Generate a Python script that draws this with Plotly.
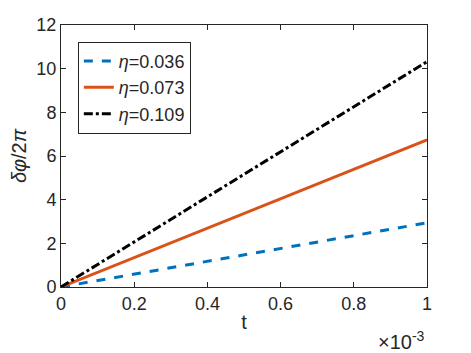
import plotly.graph_objects as go

# =========================================================
# Data
# =========================================================

t = [0, 0.2e-3, 0.4e-3, 0.6e-3, 0.8e-3, 1.0e-3]

phase_036 = [0, 0.59, 1.18, 1.77, 2.36, 2.94]
phase_073 = [0, 1.35, 2.70, 4.05, 5.40, 6.74]
phase_109 = [0, 2.07, 4.14, 6.21, 8.28, 10.32]

x_tickvals = [0, 0.2e-3, 0.4e-3, 0.6e-3, 0.8e-3, 1.0e-3]
x_ticktext = ["0", "0.2", "0.4", "0.6", "0.8", "1"]
y_tickvals = [0, 2, 4, 6, 8, 10, 12]

FONT = "Liberation Sans, Arial, sans-serif"
INK = "#262626"

fig = go.Figure()

fig.add_trace(go.Scatter(
    x=t, y=phase_036, mode="lines", name="<i>η</i>=0.036",
    line=dict(color="#0072BD", width=3, dash="dash")
))
fig.add_trace(go.Scatter(
    x=t, y=phase_073, mode="lines", name="<i>η</i>=0.073",
    line=dict(color="#D95319", width=3)
))
fig.add_trace(go.Scatter(
    x=t, y=phase_109, mode="lines", name="<i>η</i>=0.109",
    line=dict(color="black", width=3, dash="dashdot")
))

axis_style = dict(
    showline=True, linecolor=INK, linewidth=1, mirror="ticks",
    ticks="inside", ticklen=5, tickcolor=INK,
    showgrid=False, zeroline=False,
    tickfont=dict(family=FONT, size=18, color=INK),
)

fig.update_xaxes(
    range=[0, 1.0e-3], tickvals=x_tickvals, ticktext=x_ticktext,
    title=dict(text="t", font=dict(family=FONT, size=20, color=INK),
               standoff=2),
    **axis_style
)
fig.update_yaxes(
    range=[0, 12], tickvals=y_tickvals,
    title=dict(text="<i>δφ</i>/2<i>π</i>",
               font=dict(family=FONT, size=20, color=INK),
               standoff=4),
    **axis_style
)

fig.add_annotation(
    text="×10<sup>-3</sup>", xref="paper", yref="paper",
    x=1.0, y=-0.15, xanchor="right", yanchor="top", showarrow=False,
    font=dict(family=FONT, size=20, color=INK)
)

fig.update_layout(
    width=471, height=353,
    paper_bgcolor="white", plot_bgcolor="white",
    margin=dict(l=61, r=44, t=25, b=66),
    showlegend=True,
    legend=dict(
        x=0.046, y=0.936, xanchor="left", yanchor="top",
        bgcolor="white", bordercolor=INK, borderwidth=1,
        font=dict(family=FONT, size=18, color=INK),
        tracegroupgap=0, itemwidth=30,
    ),
)

fig.write_html(
    "out.html",
    config={"displayModeBar": False},
    post_script="document.body.style.margin='0px';",
)
